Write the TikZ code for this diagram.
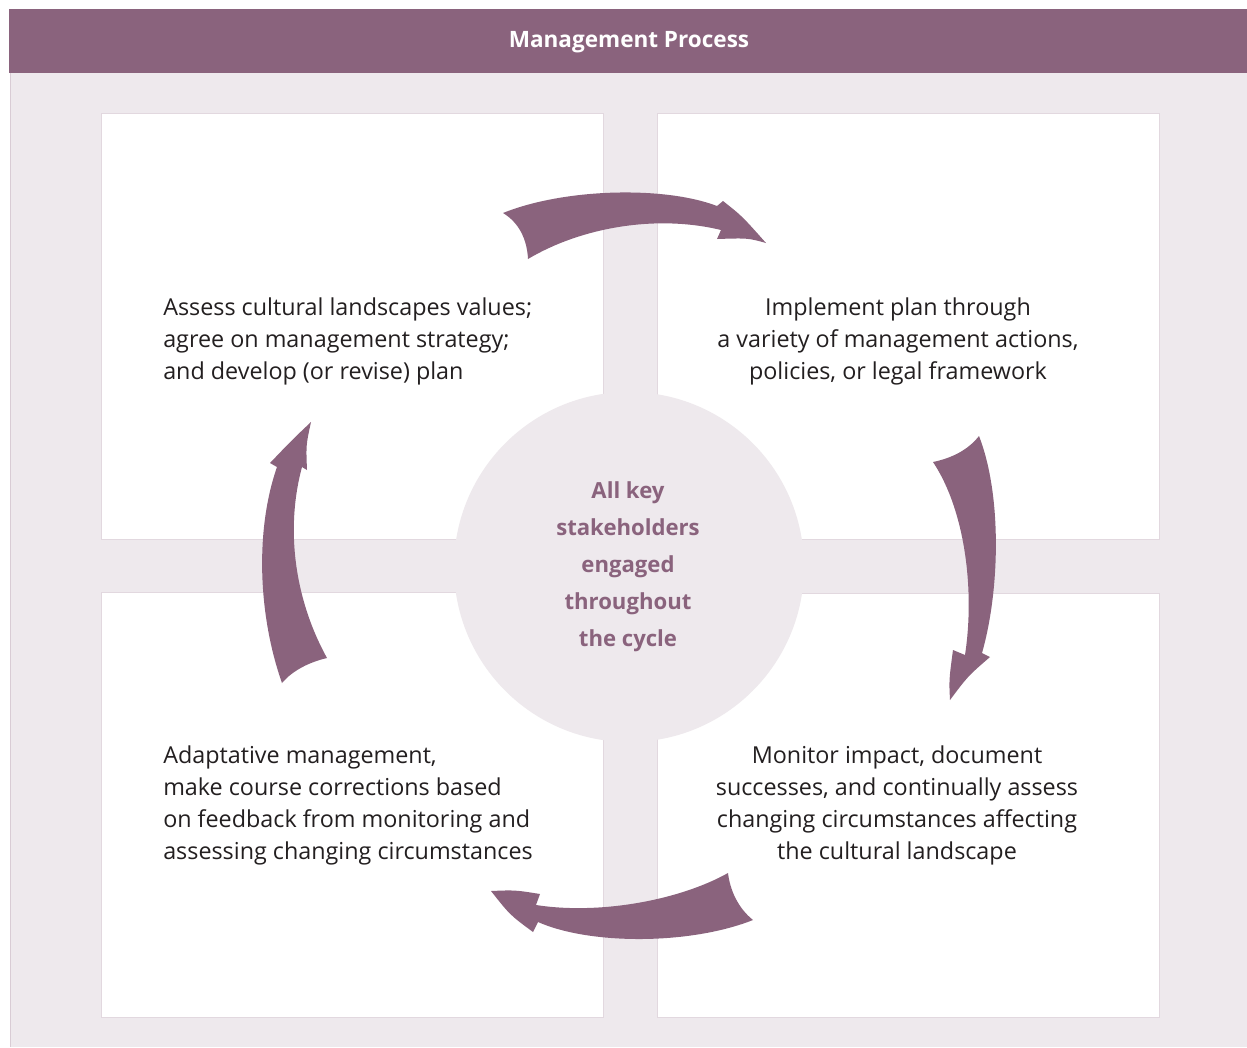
\documentclass[tikz,border=0pt]{standalone}
\usepackage{fontspec}
\setmainfont{Open Sans}
\definecolor{plum}{HTML}{8A637D}
\definecolor{lav}{HTML}{EEE9ED}
\definecolor{boxline}{HTML}{E2D8DF}
\definecolor{edgeline}{HTML}{D9CCD5}
\definecolor{ink}{HTML}{231F20}
\begin{document}
\begin{tikzpicture}[x=0.75pt,y=-0.75pt,
  body/.style={font=\fontsize{17.5}{24}\selectfont, text=ink, inner sep=0pt},
  panel/.style={fill=white, draw=boxline, line width=0.75pt},
  cyc/.style={fill=plum, draw=none},
  hub/.style={font=\bfseries\fontsize{16.6}{27.75}\selectfont, text=plum, align=center, inner sep=0pt}]
\useasboundingbox (0,0) rectangle (1247,1047);
\fill[white] (0,0) rectangle (1247,1047);
% panel background
\fill[lav] (10,73) rectangle (1247,1047);
\draw[edgeline, line width=0.9pt] (10.5,73) -- (10.5,1047);
% header
\fill[plum] (9,9) rectangle (1247,73);
\node[font=\bfseries\fontsize{16.9}{19}\selectfont, text=white, inner sep=0pt] (title) at (629,42) {Management Process};
% quadrant boxes
\draw[panel] (101,113) rectangle (603,539);
\draw[panel] (657,113) rectangle (1159,539);
\draw[panel] (101,592) rectangle (603,1017);
\draw[panel] (657,593) rectangle (1159,1017);
% hub circle
\fill[lav] (629,567) circle (175);
\node[hub] (hub) at (628,567) {All key\\stakeholders\\engaged\\throughout\\the cycle};
% texts
\node[body, align=left, anchor=west] (assess) at (163,341) {Assess cultural landscapes values;\\agree on management strategy;\\and develop (or revise) plan};
\node[body, align=center] (implement) at (898,341) {Implement plan through\\a variety of management actions,\\policies, or legal framework};
\node[body, align=left, anchor=west] (adapt) at (163,805) {Adaptative management,\\make course corrections based\\on feedback from monitoring and\\assessing changing circumstances};
\node[body, align=center] (monitor) at (897,805) {Monitor impact, document\\successes, and continually assess\\changing circumstances affecting\\the cultural landscape};
% arrows
% top: assess -> implement
\fill[cyc] (503,213) .. controls (565,188) and (665,186) .. (717,206)
  -- (723,201) .. controls (742,216) .. (766,243)
  .. controls (748,238) .. (717,239)
  .. controls (719,235) .. (721,230)
  .. controls (655,214) and (580,228) .. (528,259)
  .. controls (527,238) and (518,222) .. (503,213) -- cycle;
% right: implement -> monitor
\fill[cyc] (933,462) .. controls (952,458) and (968,450) .. (979,436)
  .. controls (1002,495) and (1000,590) .. (982,653)
  -- (990,657) .. controls (968,676) .. (950,700)
  .. controls (949,680) .. (953,650)
  -- (965,655)
  .. controls (975,590) and (965,510) .. (933,462) -- cycle;
% bottom: monitor -> adapt
\fill[cyc] (728,873) .. controls (730,890) and (738,908) .. (753,920)
  .. controls (690,945) and (590,945) .. (538,922)
  -- (533,932) .. controls (510,915) .. (491,891)
  .. controls (515,890) .. (540,894)
  -- (536,905)
  .. controls (600,915) and (680,900) .. (728,873) -- cycle;
% left: adapt -> assess
\fill[cyc] (327,658) .. controls (310,662) and (293,670) .. (282,683)
  .. controls (258,615) and (255,530) .. (277,467)
  -- (270,463) .. controls (292,440) .. (311,422)
  .. controls (306,445) .. (307,470)
  -- (302,467)
  .. controls (285,530) and (295,600) .. (327,658) -- cycle;
\end{tikzpicture}
\end{document}
